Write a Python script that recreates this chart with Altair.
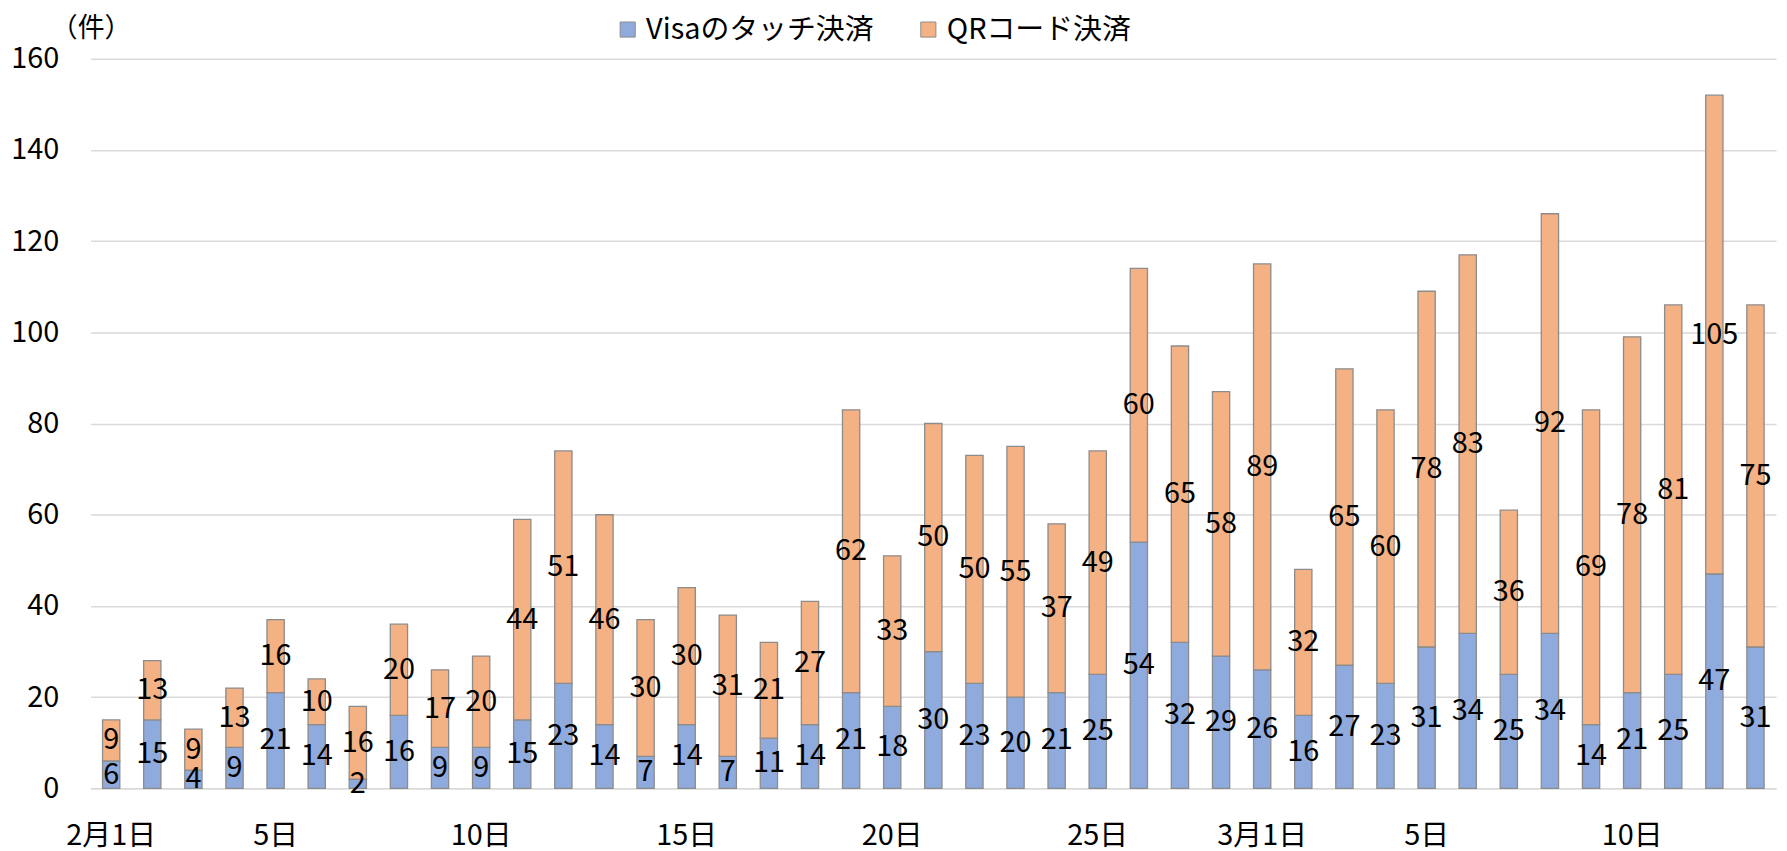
import altair as alt
import pandas as pd

# categories: Feb 1..28, Mar 1..13
dates = [f"02-{d:02d}" for d in range(1, 29)] + [f"03-{d:02d}" for d in range(1, 14)]

visa = [6, 15, 4, 9, 21, 14, 2, 16, 9, 9, 15, 23, 14, 7, 14, 7, 11, 14, 21, 18,
        30, 23, 20, 21, 25, 54, 32, 29, 26, 16, 27, 23, 31, 34, 25, 34, 14, 21,
        25, 47, 31]
qr = [9, 13, 9, 13, 16, 10, 16, 20, 17, 20, 44, 51, 46, 30, 30, 31, 21, 27, 62, 33,
      50, 50, 55, 37, 49, 60, 65, 58, 89, 32, 65, 60, 78, 83, 36, 92, 69, 78,
      81, 105, 75]

series_names = ["Visaのタッチ決済", "QRコード決済"]
series_colors = ["#8FAADC", "#F4B183"]
tick_dates = ["02-01", "02-05", "02-10", "02-15", "02-20", "02-25", "03-01", "03-05", "03-10"]
y_ticks = [0, 20, 40, 60, 80, 100, 120, 140, 160]

rows = []
for i, d in enumerate(dates):
    rows.append({"date": d, "series": series_names[0], "order": 0, "value": visa[i]})
    rows.append({"date": d, "series": series_names[1], "order": 1, "value": qr[i]})
df = pd.DataFrame(rows)

FONT = "Noto Sans CJK JP"

label_expr = ("datum.value == '02-01' ? '2月1日' : datum.value == '03-01' ? '3月1日' : "
              "toNumber(substring(datum.value, 3)) + '日'")

base = alt.Chart(df).transform_stack(
    stack="value", as_=["v0", "v1"], groupby=["date"], sort=[{"field": "order", "order": "ascending"}]
).transform_calculate(mid="(datum.v0 + datum.v1) / 2")

x = alt.X("date:N", sort=dates, title=None,
          scale=alt.Scale(paddingInner=0.58, paddingOuter=0.29),
          axis=alt.Axis(values=tick_dates, labelExpr=label_expr, labelAngle=0,
                        labelFont=FONT, labelFontSize=29, labelColor="#000000",
                        labelPadding=33, ticks=False, domainColor="#d9d9d9",
                        domainWidth=1.5, labelBaseline="top"))

bars = base.mark_bar(stroke="#8c8c8c", strokeWidth=1.3).encode(
    x=x,
    y=alt.Y("v0:Q", scale=alt.Scale(domain=[0, 160], nice=False),
            axis=alt.Axis(values=y_ticks, title="（件）", titleAngle=0, titleX=0, titleY=-30,
                          titleAlign="center", titleBaseline="middle", titleFont=FONT,
                          titleFontSize=27, titleFontWeight="normal", titleColor="#000000",
                          labelFont=FONT, labelFontSize=29, labelColor="#000000",
                          labelPadding=32, ticks=False, domain=False,
                          gridColor="#d9d9d9", gridWidth=1.5)),
    y2="v1:Q",
    color=alt.Color("series:N", scale=alt.Scale(domain=series_names, range=series_colors),
                    title=None,
                    legend=alt.Legend(orient="none", direction="horizontal", legendX=525,
                                      legendY=-44, labelFont=FONT, labelFontSize=29,
                                      labelColor="#000000", symbolType="square",
                                      symbolSize=230, symbolStrokeColor="#8c8c8c",
                                      symbolStrokeWidth=1, columnPadding=40, labelLimit=0,
                                      symbolOpacity=1)),
    order=alt.Order("order:Q"),
)

labels = base.mark_text(font=FONT, fontSize=29, color="#000000", baseline="middle").encode(
    x=alt.X("date:N", sort=dates),
    y=alt.Y("mid:Q"),
    text=alt.Text("value:Q"),
)

chart = alt.layer(bars, labels).properties(
    width=1693, height=733,
    autosize=alt.AutoSizeParams(type="none"),
    padding={"left": 83, "top": 49, "right": 3, "bottom": 58},
    background="#ffffff",
).configure_view(stroke=None)

chart.save("out.html", embed_options={"renderer": "svg", "actions": False})
